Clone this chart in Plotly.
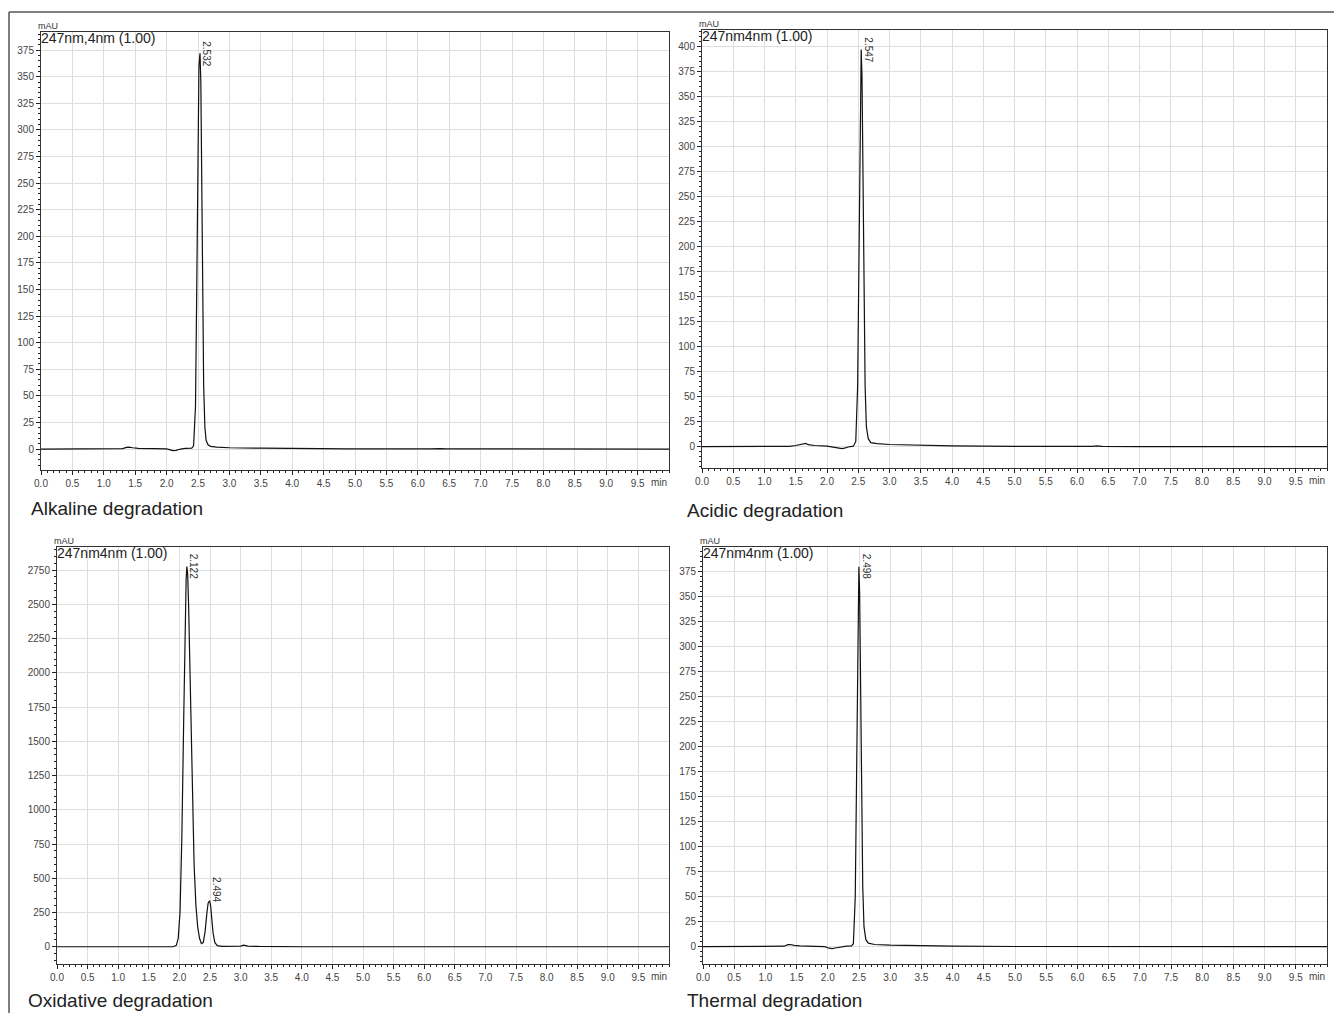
import plotly.graph_objects as go

# ---------------- data ----------------
t_alk = [0.0, 1.20, 1.30, 1.36, 1.40, 1.46, 1.55, 1.80, 2.00, 2.06, 2.10, 2.15, 2.22, 2.30, 2.40, 2.43,
         2.46, 2.48, 2.50, 2.515, 2.532, 2.545, 2.56, 2.575, 2.59, 2.61, 2.63, 2.66, 2.70, 2.80, 3.00,
         3.50, 4.00, 4.80, 4.85, 4.90, 6.20, 6.30, 6.36, 6.45, 7.00, 8.50, 10.0]
y_alk = [0.0, 0.0, 0.4, 1.6, 1.8, 1.2, 0.6, 0.3, 0.1, -0.8, -1.5, -1.2, 0.0, 0.6, 0.8, 3,
         40, 150, 300, 360, 372, 345, 250, 140, 60, 20, 8, 4, 2.5, 1.8, 1.2,
         0.8, 0.5, 0.2, 0.4, 0.2, 0.1, 0.6, 0.4, 0.1, 0.0, 0.0, 0.0]

t_acd = [0.0, 1.00, 1.40, 1.50, 1.60, 1.66, 1.70, 1.80, 2.00, 2.06, 2.12, 2.18, 2.24, 2.28, 2.34,
         2.42, 2.46, 2.49, 2.51, 2.53, 2.547, 2.56, 2.575, 2.59, 2.61, 2.63, 2.66, 2.70, 2.80, 3.00,
         3.50, 4.00, 5.00, 6.00, 6.25, 6.32, 6.40, 7.00, 8.50, 10.0]
y_acd = [0.0, 0.0, 0.4, 1.2, 2.5, 3.3, 2.0, 1.2, 0.6, 0.0, -0.8, -0.8, -2.0, -1.5, -0.3,
         0.5, 5, 60, 200, 350, 397, 370, 270, 150, 60, 20, 8, 4, 3, 2.2,
         1.3, 0.8, 0.4, 0.2, 0.3, 0.9, 0.3, 0.1, 0.0, 0.0]

t_oxi = [0.0, 1.90, 1.95, 1.98, 2.01, 2.04, 2.07, 2.09, 2.11, 2.122, 2.135, 2.15, 2.17, 2.19, 2.21,
         2.24, 2.27, 2.30, 2.33, 2.36, 2.39, 2.42, 2.45, 2.47, 2.494, 2.51, 2.53, 2.55, 2.58, 2.62,
         2.70, 3.00, 3.05, 3.12, 3.30, 4.00, 10.0]
y_oxi = [0, 0, 10, 60, 250, 800, 1650, 2250, 2680, 2775, 2720, 2500, 2050, 1550, 1100,
         600, 300, 140, 60, 22, 30, 110, 250, 320, 336, 300, 200, 100, 30, 8,
         3, 5, 12, 5, 2, 0, 0]

t_thm = [0.0, 1.20, 1.30, 1.36, 1.40, 1.46, 1.55, 1.80, 1.95, 2.02, 2.07, 2.12, 2.20, 2.30, 2.38,
         2.41, 2.44, 2.46, 2.48, 2.498, 2.51, 2.525, 2.54, 2.56, 2.58, 2.61, 2.65, 2.75, 3.00, 3.50,
         4.00, 5.00, 6.20, 6.28, 6.36, 7.00, 10.0]
y_thm = [0.0, 0.0, 0.5, 2.0, 2.2, 1.4, 0.8, 0.4, 0.0, -1.5, -2.0, -1.3, -0.3, 0.5, 0.8,
         3, 50, 170, 330, 380, 355, 270, 160, 60, 20, 7, 3.5, 2.2, 1.5, 0.8,
         0.5, 0.2, 0.1, 0.7, 0.1, 0.0, 0.0]

# peak labels: (retention time, height)
peaks_alk = [(2.532, 372)]
peaks_acd = [(2.547, 397)]
peaks_oxi = [(2.122, 2775), (2.494, 336)]
peaks_thm = [(2.498, 380)]

titles = ["Alkaline degradation", "Acidic degradation", "Oxidative degradation", "Thermal degradation"]
channels = ["247nm,4nm (1.00)", "247nm4nm (1.00)", "247nm4nm (1.00)", "247nm4nm (1.00)"]

x_tickvals = [0.0, 0.5, 1.0, 1.5, 2.0, 2.5, 3.0, 3.5, 4.0, 4.5, 5.0, 5.5, 6.0, 6.5, 7.0, 7.5, 8.0, 8.5, 9.0, 9.5]
x_ticktext = ["%.1f" % v for v in x_tickvals]

# ---------------- layout geometry ----------------
W, H = 1334, 1013
FONT = "Liberation Sans, Arial, sans-serif"

def px_x(v):
    return v / W

def px_y(v):
    return 1 - v / H

panels = [
    dict(t=t_alk, y=y_alk, peaks=peaks_alk, xd=[41, 669], yd=[32, 470], yr=[-19.7, 392], dt=25, mdt=5,
         title_pos=(29, 508)),
    dict(t=t_acd, y=y_acd, peaks=peaks_acd, xd=[702, 1327], yd=[30, 468], yr=[-21.3, 416.5], dt=25, mdt=5,
         title_pos=(685, 510)),
    dict(t=t_oxi, y=y_oxi, peaks=peaks_oxi, xd=[57, 669], yd=[547, 964], yr=[-126, 2918], dt=250, mdt=50,
         title_pos=(26, 1000)),
    dict(t=t_thm, y=y_thm, peaks=peaks_thm, xd=[703, 1327], yd=[547, 964], yr=[-17.3, 399.7], dt=25, mdt=5,
         title_pos=(685, 1000)),
]

fig = go.Figure()
annotations = []
layout = dict(
    width=W, height=H, autosize=False,
    margin=dict(l=0, r=0, t=0, b=0, pad=0),
    paper_bgcolor="white", plot_bgcolor="white",
    showlegend=False,
    font=dict(family=FONT, color="#333333", size=10),
)

for i, p in enumerate(panels):
    n = "" if i == 0 else str(i + 1)
    xa, ya = "x" + n, "y" + n
    fig.add_trace(go.Scatter(x=p["t"], y=p["y"], mode="lines", xaxis=xa, yaxis=ya,
                             line=dict(color="#111111", width=1.2), hoverinfo="skip"))
    layout["xaxis" + n] = dict(
        domain=[px_x(p["xd"][0]), px_x(p["xd"][1])], anchor=ya, range=[0, 10.0], automargin=False,
        tickvals=x_tickvals, ticktext=x_ticktext, ticks="outside", ticklen=4, tickwidth=1,
        tickcolor="#222", showline=True, linecolor="#333", linewidth=1, mirror=True,
        showgrid=True, gridcolor="#dedede", gridwidth=1, zeroline=False,
        tickfont=dict(size=10, color="#444"),
        minor=dict(dtick=0.1, tick0=0, ticks="outside", ticklen=2, tickcolor="#222", showgrid=False),
    )
    yticks = list(range(0, int(p["yr"][1]) + 1, p["dt"]))
    layout["yaxis" + n] = dict(
        domain=[px_y(p["yd"][1]), px_y(p["yd"][0])], anchor=xa, range=p["yr"], automargin=False,
        tickvals=yticks, ticks="outside", ticklen=4, tickwidth=1, tickcolor="#222",
        showline=True, linecolor="#333", linewidth=1, mirror=True,
        showgrid=True, gridcolor="#dedede", gridwidth=1, zeroline=False,
        tickfont=dict(size=10, color="#444"),
        minor=dict(dtick=p["mdt"], tick0=0, ticks="outside", ticklen=2, tickcolor="#222", showgrid=False),
    )
    # "min" unit label at the end of the time axis
    annotations.append(dict(text="min", xref=xa + " domain", yref=ya + " domain", x=1, y=0,
                            xanchor="right", yanchor="top", yshift=-5, showarrow=False,
                            font=dict(size=10, color="#444")))
    # "mAU" unit label above the y-axis
    annotations.append(dict(text="mAU", xref=xa + " domain", yref=ya + " domain", x=0, y=1,
                            xanchor="left", yanchor="bottom", xshift=-5, yshift=-1, showarrow=False,
                            font=dict(size=9, color="#333")))
    # detector channel label
    annotations.append(dict(text=channels[i], xref=xa + " domain", yref=ya + " domain", x=0, y=1,
                            xanchor="left", yanchor="top", xshift=-2, yshift=4, showarrow=False,
                            font=dict(size=14, color="#222")))
    # peak retention time labels
    for (rt, h) in p["peaks"]:
        ysh = 11 if h < 0.5 * max(p["y"]) else 0
        annotations.append(dict(text="%.3f" % rt, x=rt, y=h, xref=xa, yref=ya, showarrow=False,
                                textangle=90, xanchor="center", yanchor="middle", xshift=7, yshift=ysh,
                                font=dict(size=10, color="#333")))
    # panel title
    annotations.append(dict(text=titles[i], xref="paper", yref="paper",
                            x=px_x(p["title_pos"][0]), y=px_y(p["title_pos"][1]),
                            xanchor="left", yanchor="middle", showarrow=False,
                            font=dict(size=19, color="#222")))

layout["annotations"] = annotations
layout["shapes"] = [
    dict(type="line", xref="paper", yref="paper", x0=px_x(9), x1=1, y0=px_y(12), y1=px_y(12),
         line=dict(color="#555", width=1.5)),
    dict(type="line", xref="paper", yref="paper", x0=px_x(9), x1=px_x(9), y0=px_y(12), y1=0,
         line=dict(color="#555", width=1.5)),
]
fig.update_layout(**layout)
fig.write_html("out.html", config={"displayModeBar": False, "staticPlot": True},
               post_script="document.body.style.margin='0px';document.body.style.overflow='hidden';")
